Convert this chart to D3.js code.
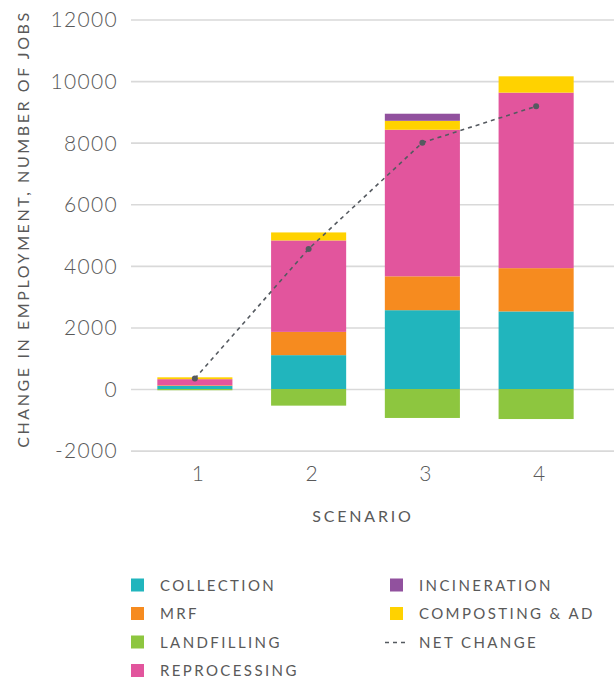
<!DOCTYPE html>
<html>
<head>
<meta charset="utf-8">
<script src="https://cdn.jsdelivr.net/npm/d3@7"></script>
<style>
  html, body { margin: 0; padding: 0; background: #fff; }
  svg { display: block; }
  text { font-family: Lato, "Open Sans", sans-serif; fill: #595959; }
</style>
</head>
<body>
<svg id="chart" width="614" height="680"></svg>
<script>
// Employment change by scenario (number of jobs)
const scenarios = ["1", "2", "3", "4"];
const collection   = [100, 1100, 2560, 2520];
const mrf          = [20, 755, 1100, 1405];
const reprocessing = [200, 2970, 4760, 5700];
const composting   = [60, 260, 290, 530];
const incineration = [0, 0, 230, 0];
const landfilling  = [-40, -540, -940, -975];
const netChange    = [340, 4550, 8000, 9180];
const yTicks = [-2000, 0, 2000, 4000, 6000, 8000, 10000, 12000];

const seriesKeys = ["collection", "mrf", "reprocessing", "composting", "incineration", "landfilling"];
const seriesData = { collection, mrf, reprocessing, composting, incineration, landfilling };
const labels = {
  collection: "COLLECTION", mrf: "MRF", landfilling: "LANDFILLING",
  reprocessing: "REPROCESSING", incineration: "INCINERATION", composting: "COMPOSTING & AD"
};
const colors = {
  collection: "#21b5bd", mrf: "#f68b1f", landfilling: "#8dc63f",
  reprocessing: "#e2559d", incineration: "#91519e", composting: "#ffd200"
};

const rows = scenarios.map((s, i) => {
  const r = { scenario: s };
  seriesKeys.forEach(k => r[k] = seriesData[k][i]);
  return r;
});

const svg = d3.select("#chart");

const y = d3.scaleLinear().domain([-2000, 12000]).range([450.6, 19.5]);
const x = d3.scaleBand().domain(scenarios).range([138, 593]).paddingInner(0.34).paddingOuter(0.17);

// gridlines + y tick labels
const yAxis = svg.append("g").attr("transform", "translate(131,0)")
  .call(d3.axisLeft(y).tickValues(yTicks).tickSize(-483).tickFormat(d => String(d)).tickPadding(13));
yAxis.select(".domain").remove();
yAxis.selectAll(".tick line").attr("stroke", "#d9d9d9").attr("stroke-width", 1.6);
yAxis.selectAll(".tick text")
  .style("font-size", "21px").style("font-weight", 300).style("letter-spacing", "1.3px")
  .attr("fill", "#595959").attr("dy", "0.35em");

// stacked bars (negatives stack below zero)
const stack = d3.stack().keys(seriesKeys).offset(d3.stackOffsetDiverging);
const layers = stack(rows);

svg.append("g").selectAll("g").data(layers).join("g")
  .attr("fill", d => colors[d.key])
  .selectAll("rect").data(d => d).join("rect")
  .attr("x", d => x(d.data.scenario))
  .attr("width", x.bandwidth())
  .attr("y", d => y(Math.max(d[0], d[1])))
  .attr("height", d => Math.abs(y(d[0]) - y(d[1])));

// net change line
const cx = d => x(d.s) + x.bandwidth() / 2;
const net = scenarios.map((s, i) => ({ s, v: netChange[i] }));
svg.append("path").datum(net)
  .attr("fill", "none").attr("stroke", "#555a60").attr("stroke-width", 1.6)
  .attr("stroke-dasharray", "4,4")
  .attr("d", d3.line().x(cx).y(d => y(d.v)));
svg.append("g").selectAll("circle").data(net).join("circle")
  .attr("cx", cx).attr("cy", d => y(d.v)).attr("r", 3).attr("fill", "#555a60");

// x tick labels
const xAxis = svg.append("g").attr("transform", "translate(3,461)")
  .call(d3.axisBottom(x).tickSize(0).tickPadding(5));
xAxis.select(".domain").remove();
xAxis.selectAll(".tick text")
  .style("font-size", "21px").style("font-weight", 300).attr("fill", "#595959");

// axis titles
svg.append("text")
  .attr("transform", "translate(29,229) rotate(-90)")
  .attr("text-anchor", "middle")
  .style("font-size", "16px").style("letter-spacing", "2.6px")
  .text("CHANGE IN EMPLOYMENT, NUMBER OF JOBS");
svg.append("text")
  .attr("x", 363).attr("y", 522).attr("text-anchor", "middle")
  .style("font-size", "16px").style("letter-spacing", "2.8px")
  .text("SCENARIO");

// legend
const legendItems = [
  { key: "collection", col: 0, row: 0 },
  { key: "mrf", col: 0, row: 1 },
  { key: "landfilling", col: 0, row: 2 },
  { key: "reprocessing", col: 0, row: 3 },
  { key: "incineration", col: 1, row: 0 },
  { key: "composting", col: 1, row: 1 },
  { key: "net", col: 1, row: 2 }
];
const colX = [131, 390];
const rowY = [585.5, 614, 642.5, 671];
const lg = svg.append("g");
legendItems.forEach(it => {
  const gx = colX[it.col], gy = rowY[it.row];
  if (it.key === "net") {
    lg.append("line").attr("x1", gx - 5).attr("x2", gx + 17).attr("y1", gy).attr("y2", gy)
      .attr("stroke", "#555a60").attr("stroke-width", 1.6).attr("stroke-dasharray", "4,4");
  } else {
    lg.append("rect").attr("x", gx).attr("y", gy - 7).attr("width", 13).attr("height", 13)
      .attr("fill", colors[it.key]);
  }
  lg.append("text").attr("x", gx + 29).attr("y", gy).attr("dy", "0.36em")
    .style("font-size", "15px").style("letter-spacing", "2.4px")
    .text(it.key === "net" ? "NET CHANGE" : labels[it.key]);
});
</script>
</body>
</html>
